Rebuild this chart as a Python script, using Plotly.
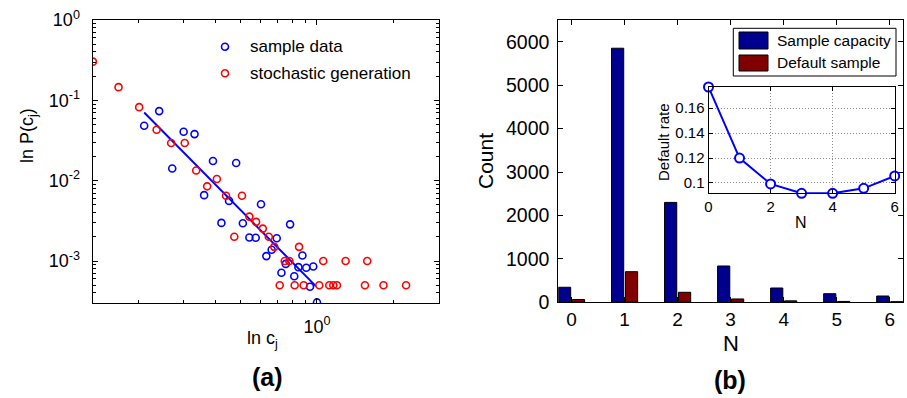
import plotly.graph_objects as go
import math

# ---------------- Panel (a) data ----------------
sample_x = [0.2415, 0.211, 0.301, 0.332, 0.392, 0.483, 0.2716, 0.362, 0.453, 0.604,
            0.423, 0.513, 0.544, 0.576, 0.696, 0.785, 0.665, 0.634, 0.877, 0.755,
            0.846, 0.908, 0.967, 0.726, 0.815, 0.939, 1.0]
sample_y = [0.0734, 0.0482, 0.0406, 0.038, 0.0176, 0.0166, 0.0142, 0.0066, 0.0056, 0.00508,
            0.00298, 0.00295, 0.00196, 0.00195, 0.00192, 0.00286, 0.00138, 0.00115, 0.00117, 0.00092,
            0.000838, 0.000823, 0.000855, 0.000713, 0.000647, 0.000478, 0.000305]
stoch_x = [0.133, 0.1675, 0.2017, 0.236, 0.269, 0.304, 0.337, 0.372, 0.406, 0.441,
           0.509, 0.544, 0.578, 0.614, 0.475, 0.648, 0.681, 0.851, 0.748, 0.780,
           1.058, 1.294, 1.572, 0.715, 0.818, 0.887, 1.021, 1.117, 1.158, 1.197,
           1.54, 1.82, 2.23]
stoch_y = [0.303, 0.146, 0.0823, 0.043, 0.0294, 0.0294, 0.0134, 0.0085, 0.0105, 0.0065,
           0.0065, 0.00357, 0.00307, 0.00253, 0.002, 0.002, 0.0015, 0.0015, 0.001, 0.001,
           0.001, 0.001, 0.001, 0.0005, 0.0005, 0.0005, 0.0005, 0.0005, 0.0005, 0.0005,
           0.0005, 0.0005, 0.0005]
fit_x = [0.211, 0.99]
fit_y = [0.0706, 0.000486]

a_xlim = [0.1325, 3.0]
a_ylim = [3e-4, 1.0]
a_ytick_vals = [1e-3, 1e-2, 1e-1, 1e0]
a_ytick_text = ["10<sup>-3</sup>", "10<sup>-2</sup>", "10<sup>-1</sup>", "10<sup>0</sup>"]
a_xtick_vals = [1.0]
a_xtick_text = ["10<sup>0</sup>"]

# ---------------- Panel (b) data ----------------
N = [0, 1, 2, 3, 4, 5, 6]
capacity = [346, 5850, 2300, 836, 329, 198, 145]
default_cnt = [65, 705, 230, 77, 33, 20, 15]
default_rate = [0.177, 0.120, 0.0992, 0.0917, 0.0917, 0.0957, 0.1056]

W, H = 907, 398
def px(x): return x / W
def py(y): return 1 - y / H

FONT = "Liberation Sans, Arial, Helvetica, sans-serif"
BLUE = "#0000FF"
RED = "#FF0000"
NAVY = "#00008F"
MAROON = "#800000"

fig = go.Figure()

# panel (a)
fig.add_trace(go.Scatter(x=fit_x, y=fit_y, mode="lines", line=dict(color=BLUE, width=2),
                         xaxis="x", yaxis="y", showlegend=False))
fig.add_trace(go.Scatter(x=sample_x, y=sample_y, mode="markers", name="sample data",
                         marker=dict(symbol="circle-open", size=7, color=BLUE, line=dict(width=1.6)),
                         xaxis="x", yaxis="y", showlegend=False))
fig.add_trace(go.Scatter(x=stoch_x, y=stoch_y, mode="markers", name="stochastic generation",
                         marker=dict(symbol="circle-open", size=7, color=RED, line=dict(width=1.6)),
                         xaxis="x", yaxis="y", showlegend=False))

# panel (b)
fig.add_trace(go.Bar(x=N, y=capacity, name="Sample capacity", marker=dict(color=NAVY, line=dict(color="black", width=1)),
                     xaxis="x2", yaxis="y2", showlegend=False))
fig.add_trace(go.Bar(x=N, y=default_cnt, name="Default sample", marker=dict(color=MAROON, line=dict(color="black", width=1)),
                     xaxis="x2", yaxis="y2", showlegend=False))

# inset
fig.add_trace(go.Scatter(x=N, y=default_rate, mode="lines+markers", cliponaxis=False,
                         line=dict(color=BLUE, width=2),
                         marker=dict(symbol="circle", size=9, color="white", line=dict(color=BLUE, width=2)),
                         xaxis="x3", yaxis="y3", showlegend=False))

axis_common = dict(showline=True, linecolor="black", linewidth=1, mirror="ticks", ticks="inside",
                   tickcolor="black", zeroline=False, automargin=False)

minor_y = [m * 10 ** e for e in range(-4, 0) for m in range(2, 10)]
minor_x = [m / 10 for m in range(2, 10)] + [2.0]

fig.update_layout(
    width=W, height=H, margin=dict(l=0, r=0, t=0, b=0, autoexpand=False),
    paper_bgcolor="white", plot_bgcolor="white",
    font=dict(family=FONT, color="black", size=17),
    barmode="group", bargap=0.475, bargroupgap=0.124,
    xaxis=dict(**axis_common, showgrid=False, type="log", domain=[px(92.5), px(439)],
               range=[math.log10(a_xlim[0]), math.log10(a_xlim[1])],
               tickmode="array", tickvals=a_xtick_vals, ticktext=a_xtick_text, ticklen=5,
               ticklabelstandoff=7,
               minor=dict(tickvals=minor_x, ticks="inside", ticklen=3, tickcolor="black"),
               tickfont=dict(size=18), anchor="y"),
    yaxis=dict(**axis_common, showgrid=False, type="log", domain=[py(303), py(20)],
               range=[math.log10(a_ylim[0]), math.log10(a_ylim[1])],
               tickmode="array", tickvals=a_ytick_vals, ticktext=a_ytick_text, ticklen=5,
               ticklabelstandoff=8,
               minor=dict(tickvals=minor_y, ticks="inside", ticklen=3, tickcolor="black"),
               tickfont=dict(size=18), anchor="x"),
    xaxis2=dict(**axis_common, showgrid=False, domain=[px(558.3), px(903)], range=[-0.25, 6.25],
                tickmode="array", tickvals=N, ticklen=5, tickfont=dict(size=19), anchor="y2"),
    yaxis2=dict(**axis_common, showgrid=False, domain=[py(302.3), py(20)], range=[0, 6500],
                tickmode="array", tickvals=[0, 1000, 2000, 3000, 4000, 5000, 6000], ticklen=5,
                ticklabelstandoff=4,
                tickfont=dict(size=19.5), anchor="x2"),
    xaxis3=dict(**axis_common, domain=[px(708.5), px(894.7)], range=[0, 6],
                tickmode="array", tickvals=[0, 2, 4, 6], ticklen=4, tickfont=dict(size=15),
                showgrid=True, gridcolor="#8c8c8c", griddash="1px,2px", gridwidth=1, anchor="y3"),
    yaxis3=dict(**axis_common, domain=[py(193.3), py(87)], range=[min(default_rate), max(default_rate)],
                tickmode="array", tickvals=[0.1, 0.12, 0.14, 0.16], ticktext=["0.1", "0.12", "0.14", "0.16"],
                ticklen=4, tickfont=dict(size=15),
                showgrid=True, gridcolor="#8c8c8c", griddash="1px,2px", gridwidth=1, anchor="x3"),
)

shapes = []
annotations = []

# Panel (a) legend (drawn manually)
for ycen, col, txt in [(46.7, BLUE, "sample data"), (73.3, RED, "stochastic generation")]:
    shapes.append(dict(type="circle", xref="paper", yref="paper", xsizemode="pixel", ysizemode="pixel",
                       xanchor=px(225), yanchor=py(ycen), x0=-3.5, x1=3.5, y0=-3.5, y1=3.5,
                       line=dict(color=col, width=1.6), fillcolor="rgba(0,0,0,0)"))
    annotations.append(dict(x=px(248), y=py(ycen), xref="paper", yref="paper", text=txt, showarrow=False,
                            xanchor="left", yanchor="middle", font=dict(size=17)))

# Panel (b) legend (drawn manually)
shapes.append(dict(type="rect", xref="paper", yref="paper", x0=px(733.3), x1=px(896), y0=py(76), y1=py(28.3),
                   line=dict(color="black", width=1), fillcolor="white"))
for (y0, y1), col, txt in [((32, 49), NAVY, "Sample capacity"), ((55, 71), MAROON, "Default sample")]:
    shapes.append(dict(type="rect", xref="paper", yref="paper", x0=px(739), x1=px(768), y0=py(y1), y1=py(y0),
                       line=dict(color="black", width=1), fillcolor=col))
    annotations.append(dict(x=px(775), y=py((y0 + y1) / 2), xref="paper", yref="paper", text=txt, showarrow=False,
                            xanchor="left", yanchor="middle", font=dict(size=15.5)))

# axis titles & panel labels
titles = [
    (29, 136, "ln P(c<sub>j</sub>)", -90, 18),
    (262, 339, "ln c<sub>j</sub>", 0, 18),
    (267, 377, "<b>(a)</b>", 0, 25),
    (486, 161, "Count", -90, 21),
    (731, 343, "N", 0, 22),
    (730, 380, "<b>(b)</b>", 0, 25),
    (663, 142, "Default rate", -90, 15),
    (801, 222, "N", 0, 16),
]
for x, y, txt, ang, sz in titles:
    annotations.append(dict(x=px(x), y=py(y), xref="paper", yref="paper", text=txt, showarrow=False,
                            xanchor="center", yanchor="middle", textangle=ang, font=dict(size=sz)))

fig.update_layout(shapes=shapes, annotations=annotations)
fig.write_html("out.html")
